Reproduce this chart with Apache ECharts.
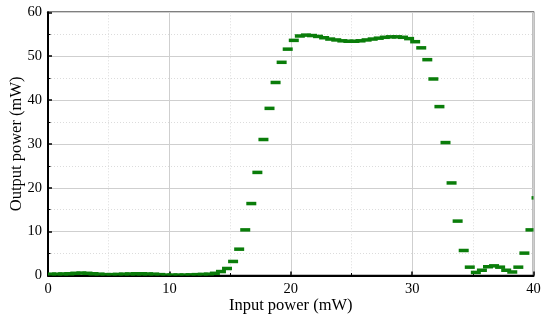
<!DOCTYPE html>
<html>
<head>
<meta charset="utf-8">
<script src="https://cdn.jsdelivr.net/npm/echarts@6/dist/echarts.min.js"></script>
<style>html,body{margin:0;padding:0;background:#fff}#c{width:550px;height:321px}</style>
</head>
<body>
<div id="c"></div>
<script>
const inputPower = [
  0.25, 0.75, 1.25, 1.75, 2.25, 2.75, 3.25, 3.75, 4.25, 4.75,
  5.25, 5.75, 6.25, 6.75, 7.25, 7.75, 8.25, 8.75, 9.25, 9.75,
  10.25, 10.75, 11.25, 11.75, 12.25, 12.75, 13.25, 13.75, 14.25, 14.75,
  15.25, 15.75, 16.25, 16.75, 17.25, 17.75, 18.25, 18.75, 19.25, 19.75,
  20.25, 20.75, 21.25, 21.75, 22.25, 22.75, 23.25, 23.75, 24.25, 24.75,
  25.25, 25.75, 26.25, 26.75, 27.25, 27.75, 28.25, 28.75, 29.25, 29.75,
  30.25, 30.75, 31.25, 31.75, 32.25, 32.75, 33.25, 33.75, 34.25, 34.75,
  35.25, 35.75, 36.25, 36.75, 37.25, 37.75, 38.25, 38.75, 39.25, 39.75,
  40.25
];
const outputPower = [
  0.3, 0.3, 0.35, 0.4, 0.5, 0.55, 0.5, 0.4, 0.3, 0.2,
  0.2, 0.25, 0.3, 0.35, 0.4, 0.4, 0.35, 0.3, 0.2, 0.1,
  0.1, 0.1, 0.1, 0.15, 0.2, 0.25, 0.3, 0.5, 0.9, 1.6,
  3.2, 6.0, 10.4, 16.4, 23.5, 31.0, 38.1, 44.0, 48.6, 51.6,
  53.6, 54.6, 54.8, 54.7, 54.5, 54.2, 53.9, 53.7, 53.5, 53.4,
  53.4, 53.5, 53.7, 53.9, 54.1, 54.3, 54.4, 54.4, 54.3, 54.0,
  53.3, 51.9, 49.2, 44.8, 38.5, 30.3, 21.1, 12.4, 5.7, 1.9,
  0.7, 1.2, 2.0, 2.2, 1.9, 1.2, 0.8, 1.9, 5.1, 10.4,
  17.7
];
const xTicks = [0, 10, 20, 30, 40];
const yTicks = [0, 10, 20, 30, 40, 50, 60];

const FONT = '"Liberation Serif", "Times New Roman", serif';
const GREEN = '#0a7d0a';
const data = inputPower.map((x, i) => [x, outputPower[i]]);

const chart = echarts.init(document.getElementById('c'), null, {renderer: 'canvas'});
chart.setOption({
  animation: false,
  backgroundColor: '#fff',
  grid: {left: 48, right: 16.5, top: 12.3, bottom: 45.5, containLabel: false, outerBoundsMode: 'none',
         show: true, borderColor: '#000', borderWidth: 1.5, backgroundColor: 'transparent'},
  xAxis: {
    type: 'value', min: xTicks[0], max: xTicks[xTicks.length - 1], interval: 10,
    name: 'Input power (mW)', nameLocation: 'middle', nameGap: 22, nameMoveOverlap: false,
    nameTextStyle: {fontFamily: FONT, fontSize: 16.5, color: '#000'},
    axisLine: {show: true, onZero: false, lineStyle: {color: '#000', width: 2}},
    axisTick: {show: true, inside: true, length: 4, lineStyle: {color: '#000', width: 1.5}},
    minorTick: {show: true, splitNumber: 2, length: 2.5, lineStyle: {color: '#000', width: 1}},
    axisLabel: {fontFamily: FONT, fontSize: 14.5, color: '#000', margin: 6},
    splitLine: {show: true, lineStyle: {color: '#cfcfcf', width: 1}},
    minorSplitLine: {show: true, lineStyle: {color: '#dcdcdc', width: 1, type: [1, 2]}}
  },
  yAxis: {
    type: 'value', min: yTicks[0], max: yTicks[yTicks.length - 1], interval: 10,
    name: 'Output power (mW)', nameLocation: 'middle', nameGap: 31, nameMoveOverlap: false,
    nameTextStyle: {fontFamily: FONT, fontSize: 16.5, color: '#000', verticalAlign: 'middle'},
    axisLine: {show: true, onZero: false, lineStyle: {color: '#000', width: 2}},
    axisTick: {show: true, inside: true, length: 4, lineStyle: {color: '#000', width: 1.5}},
    minorTick: {show: true, splitNumber: 2, length: 2.5, lineStyle: {color: '#000', width: 1}},
    axisLabel: {fontFamily: FONT, fontSize: 14.5, color: '#000', margin: 6},
    splitLine: {show: true, lineStyle: {color: '#cfcfcf', width: 1}},
    minorSplitLine: {show: true, lineStyle: {color: '#dcdcdc', width: 1, type: [1, 2]}}
  },
  series: [{
    type: 'custom',
    data: data,
    renderItem: function (params, api) {
      const p = api.coord([api.value(0), api.value(1)]);
      const w = 10, h = 3.5;
      const cs = params.coordSys;
      const shape = echarts.graphic.clipRectByRect(
        {x: p[0] - w / 2, y: p[1] - h / 2, width: w, height: h},
        {x: cs.x, y: cs.y, width: cs.width, height: cs.height}
      );
      if (!shape) return null;
      return {type: 'rect', shape: shape, style: {fill: GREEN}};
    }
  }]
});
</script>
</body>
</html>
